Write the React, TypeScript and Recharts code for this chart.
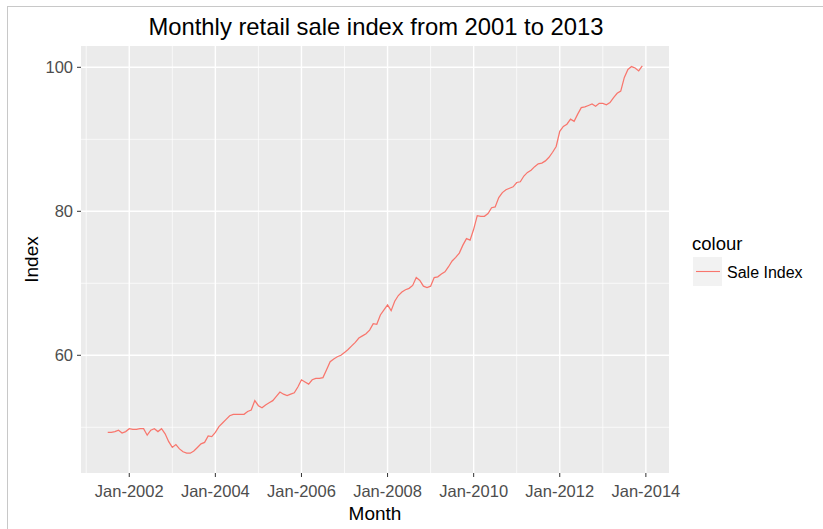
import { LineChart, Line, XAxis, YAxis, CartesianGrid } from "recharts"

// monthly values, Jul-2001 .. Dec-2013 (month 0 = Jul-2001)
const saleIndex = [
  49.3, 49.3, 49.4, 49.6, 49.2, 49.4, 49.8, 49.7, 49.7, 49.8,
  49.8, 48.9, 49.6, 49.8, 49.4, 49.8, 49.1, 48.0, 47.2, 47.6,
  47.0, 46.6, 46.4, 46.4, 46.7, 47.2, 47.7, 47.9, 48.8, 48.7,
  49.3, 50.1, 50.6, 51.1, 51.6, 51.8, 51.8, 51.8, 51.8, 52.2,
  52.4, 53.7, 53.0, 52.7, 53.1, 53.4, 53.7, 54.3, 54.9, 54.6,
  54.4, 54.6, 54.8, 55.6, 56.6, 56.3, 56.0, 56.6, 56.8, 56.8,
  56.9, 58.0, 59.1, 59.5, 59.8, 60.0, 60.4, 60.8, 61.3, 61.8,
  62.4, 62.7, 63.0, 63.5, 64.4, 64.3, 65.6, 66.3, 67.0, 66.2,
  67.5, 68.3, 68.8, 69.1, 69.3, 69.7, 70.8, 70.4, 69.6, 69.4,
  69.6, 70.8, 70.9, 71.3, 71.6, 72.3, 73.1, 73.6, 74.2, 75.3,
  76.2, 76.0, 77.5, 79.4, 79.3, 79.3, 79.7, 80.5, 80.6, 81.9,
  82.6, 83.0, 83.2, 83.4, 84.0, 84.1, 84.9, 85.4, 85.7, 86.2,
  86.6, 86.7, 87.0, 87.5, 88.2, 89.0, 91.1, 91.8, 92.1, 92.8,
  92.5, 93.5, 94.4, 94.5, 94.7, 94.9, 94.6, 95.0, 95.0, 94.8,
  95.1, 95.8, 96.4, 96.7, 98.6, 99.7, 100.1, 99.9, 99.5, 100.2,
]

const xTicks = [6, 30, 54, 78, 102, 126, 150]
const xTickLabels = ["Jan-2002", "Jan-2004", "Jan-2006", "Jan-2008", "Jan-2010", "Jan-2012", "Jan-2014"]
const xMinor = [-6, 18, 42, 66, 90, 114, 138]
const yTicks = [60, 80, 100]
const yMinor = [50, 70, 90]

const data = saleIndex.map((v, i) => ({ month: i, index: v }))

const FONT = "'Liberation Sans', Arial, sans-serif"
const LINE = "#F8766D"

export default function App() {
  return (
    <div style={{ position: "absolute", left: 0, top: 0, width: 823, height: 529, background: "#fff", fontFamily: FONT }}>
      <LineChart width={823} height={529} data={data} margin={{ top: 46, right: 154, bottom: 0, left: 0 }}>
        <CartesianGrid
          fill="#EBEBEB"
          stroke="#FFFFFF"
          strokeWidth={0.7}
          horizontalValues={yMinor}
          verticalValues={xMinor}
        />
        <CartesianGrid
          fill="none"
          stroke="#FFFFFF"
          strokeWidth={1.4}
          horizontalValues={yTicks}
          verticalValues={xTicks}
        />
        <XAxis
          dataKey="month"
          type="number"
          domain={[-7.45, 156.45]}
          allowDataOverflow
          ticks={xTicks}
          interval={0}
          tickFormatter={(v: number) => xTickLabels[xTicks.indexOf(v)]}
          height={56}
          tickSize={4}
          tickMargin={8}
          axisLine={false}
          tickLine={{ stroke: "#333333" }}
          tick={{ fill: "#4D4D4D", fontSize: 16.5, fontFamily: FONT }}
          label={{ value: "Month", position: "insideBottom", offset: 9, fill: "#000", fontSize: 19, fontFamily: FONT }}
        />
        <YAxis
          type="number"
          domain={[43.65, 102.96]}
          allowDataOverflow
          ticks={yTicks}
          interval={0}
          width={81}
          tickSize={4}
          tickMargin={4}
          axisLine={false}
          tickLine={{ stroke: "#333333" }}
          tick={{ fill: "#4D4D4D", fontSize: 16.5, fontFamily: FONT }}
          label={{
            value: "Index",
            angle: -90,
            position: "insideLeft",
            offset: 31,
            fill: "#000",
            fontSize: 19,
            fontFamily: FONT,
            style: { textAnchor: "middle" },
          }}
        />
        <Line
          type="linear"
          dataKey="index"
          stroke={LINE}
          strokeWidth={1.25}
          dot={false}
          activeDot={false}
          isAnimationActive={false}
        />
      </LineChart>

      <svg width={823} height={529} style={{ position: "absolute", left: 0, top: 0, pointerEvents: "none" }}>
        <line x1={7} y1={6.5} x2={823} y2={6.5} stroke="#C8C8C8" strokeWidth={1} />
        <line x1={7.5} y1={6} x2={7.5} y2={529} stroke="#C8C8C8" strokeWidth={1} />
        <text x={376} y={35} textAnchor="middle" fontSize={23.8} fontFamily={FONT} fill="#000">
          Monthly retail sale index from 2001 to 2013
        </text>
        {/* legend */}
        <text x={692} y={250} fontSize={18.5} fontFamily={FONT} fill="#000">colour</text>
        <rect x={693} y={257} width={29} height={29} fill="#F2F2F2" />
        <line x1={696} y1={271.5} x2={720} y2={271.5} stroke={LINE} strokeWidth={1.1} />
        <text x={727} y={278} fontSize={16} fontFamily={FONT} fill="#000">Sale Index</text>
      </svg>
    </div>
  )
}
